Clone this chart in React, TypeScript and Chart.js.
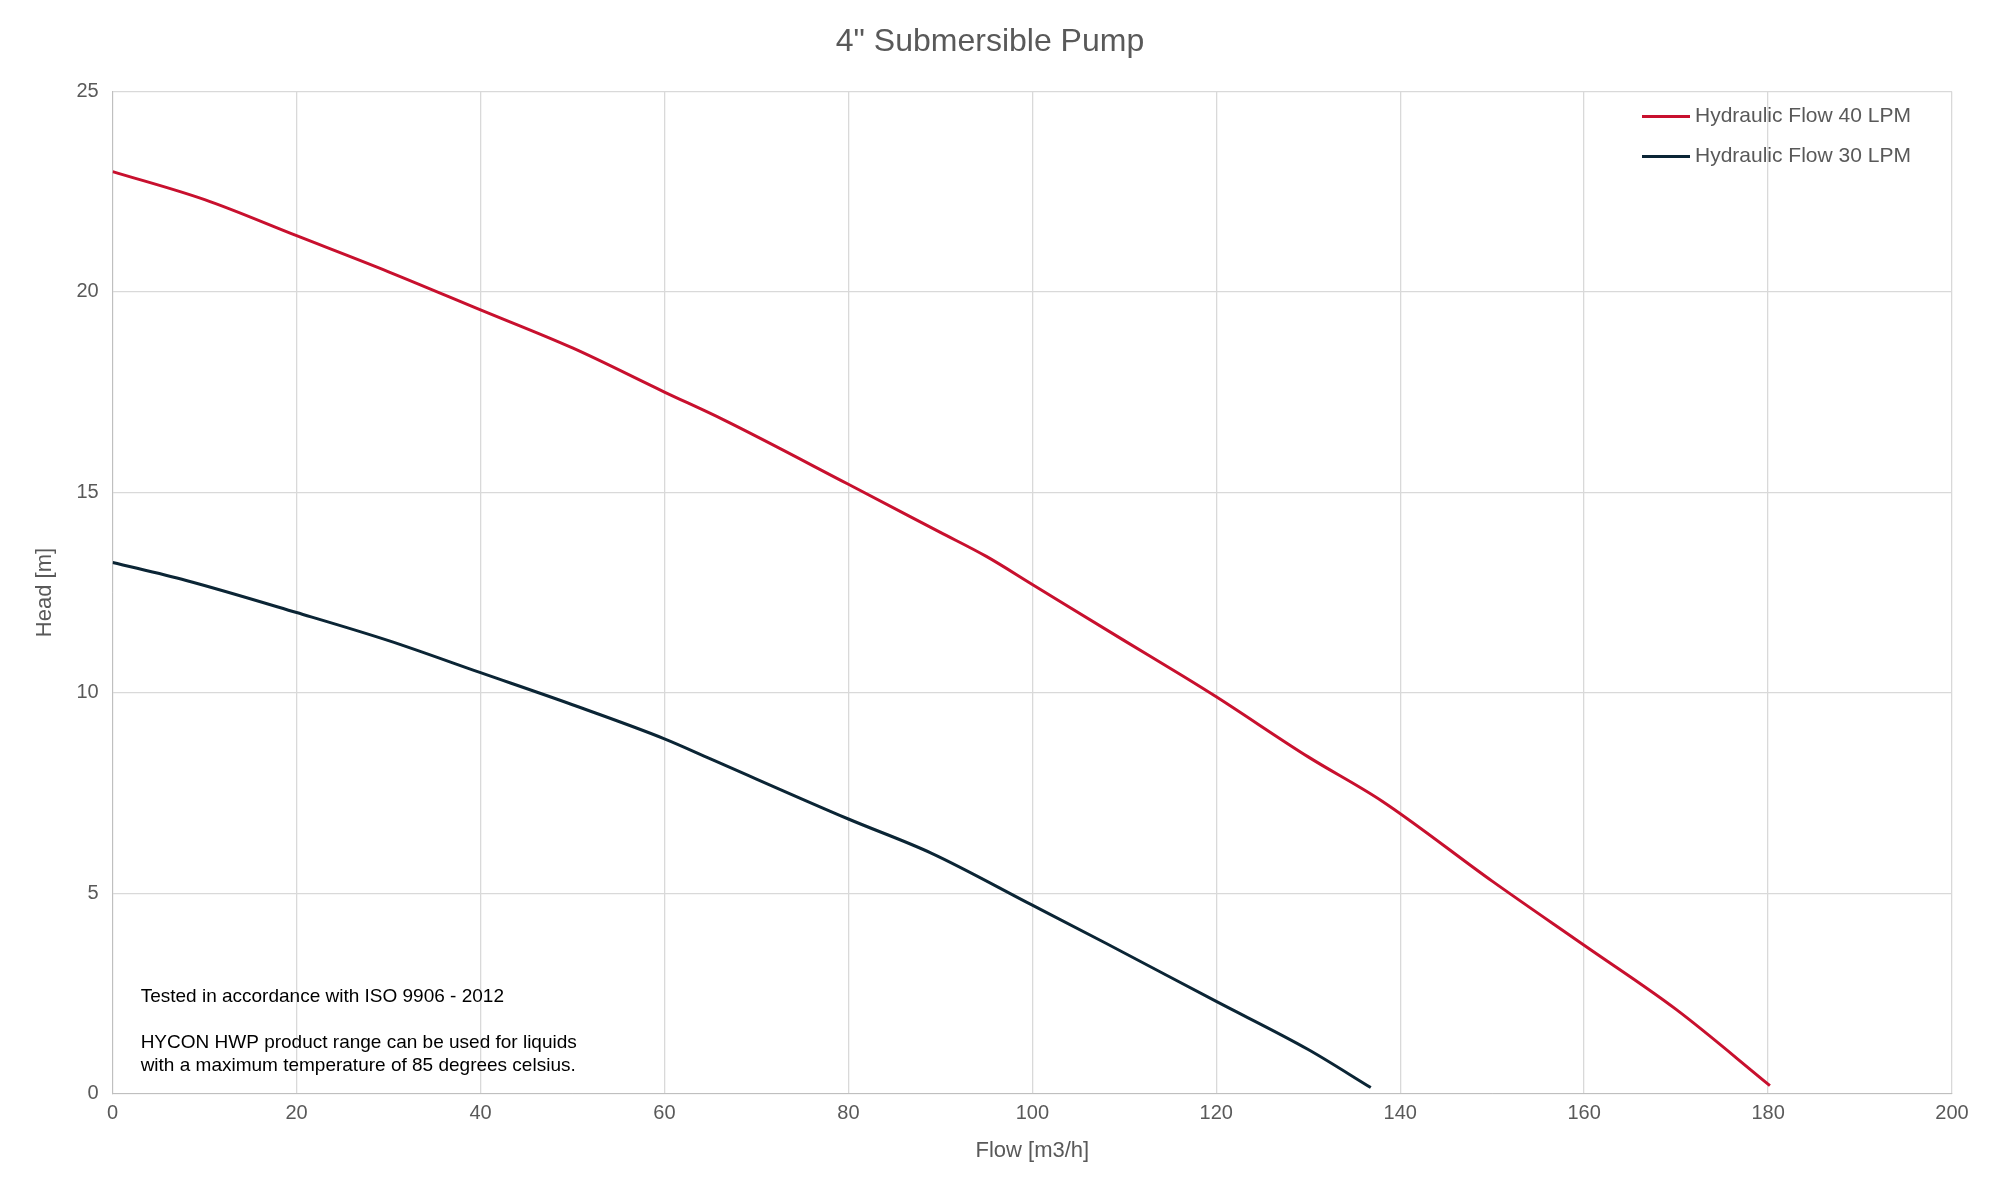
import React, { useEffect, useRef } from "react";
import { Chart, registerables } from "chart.js";
Chart.register(...registerables);

const flow40 = [0, 10, 20, 30, 40, 50, 60, 66.5, 80, 90, 95, 100, 110, 116.5, 120, 130, 138, 150, 160, 170, 180.2];
const head40 = [23, 22.3, 21.4, 20.5, 19.55, 18.6, 17.5, 16.8, 15.2, 14.0, 13.4, 12.7, 11.3, 10.4, 9.9, 8.4, 7.3, 5.3, 3.7, 2.1, 0.2];
const flow30 = [0, 8, 20, 30, 40, 50, 60, 65, 80, 89, 100, 108, 120, 130, 136.8];
const head30 = [13.25, 12.8, 12.0, 11.3, 10.5, 9.7, 8.85, 8.35, 6.85, 6.0, 4.7, 3.75, 2.3, 1.1, 0.15];
const seriesNames = ["Hydraulic Flow 40 LPM", "Hydraulic Flow 30 LPM"];
const seriesColors = ["#c8102e", "#0b2535"];
const noteLines = [
  "Tested in accordance with ISO 9906 - 2012",
  "",
  "HYCON HWP product range can be used for liquids",
  "with a maximum temperature of 85 degrees celsius.",
];

const overlay = {
  id: "overlay",
  afterDraw(chart: any) {
    const ctx = chart.ctx;
    const a = chart.chartArea;
    ctx.save();
    ctx.font = "19px Arial, 'Liberation Sans'";
    ctx.fillStyle = "#000";
    ctx.textBaseline = "middle";
    noteLines.forEach((t, i) => ctx.fillText(t, a.left + 28, a.bottom - 97 + i * 23));
    ctx.font = "21px Arial, 'Liberation Sans'";
    seriesNames.forEach((n, i) => {
      const y = a.top + 25 + i * 40;
      ctx.strokeStyle = seriesColors[i];
      ctx.lineWidth = 3;
      ctx.beginPath();
      ctx.moveTo(a.right - 310, y);
      ctx.lineTo(a.right - 262, y);
      ctx.stroke();
      ctx.fillStyle = "#595959";
      ctx.fillText(n, a.right - 257, y);
    });
    ctx.restore();
  },
};

export default function App() {
  const ref = useRef<HTMLCanvasElement>(null);
  useEffect(() => {
    const c = new Chart(ref.current!, {
      type: "scatter",
      data: {
        datasets: [
          { label: seriesNames[0], data: flow40.map((x, i) => ({ x, y: head40[i] })), showLine: true, borderColor: seriesColors[0], borderWidth: 3, pointRadius: 0, cubicInterpolationMode: "monotone" },
          { label: seriesNames[1], data: flow30.map((x, i) => ({ x, y: head30[i] })), showLine: true, borderColor: seriesColors[1], borderWidth: 3, pointRadius: 0, cubicInterpolationMode: "monotone" },
        ],
      },
      options: {
        responsive: false,
        animation: false,
        devicePixelRatio: 1,
        layout: { padding: { left: 28, right: 48, top: 5, bottom: 32 } },
        plugins: {
          legend: { display: false },
          tooltip: { enabled: false },
          title: { display: true, text: '4" Submersible Pump', color: "#595959", font: { size: 32, family: "Arial, 'Liberation Sans'", weight: "normal" }, padding: { top: 18, bottom: 30 } },
        },
        scales: {
          x: {
            type: "linear", min: 0, max: 200,
            ticks: { stepSize: 20, color: "#595959", font: { size: 20, family: "Arial, 'Liberation Sans'" }, padding: 8 },
            grid: { color: "#d9d9d9", lineWidth: 1.3, tickLength: 0 },
            border: { color: "#bfbfbf" },
            title: { display: true, text: "Flow [m3/h]", color: "#595959", font: { size: 22, family: "Arial, 'Liberation Sans'" } },
          },
          y: {
            min: 0, max: 25,
            ticks: { stepSize: 5, color: "#595959", font: { size: 20, family: "Arial, 'Liberation Sans'" }, padding: 14 },
            grid: { color: "#d9d9d9", lineWidth: 1.3, tickLength: 0 },
            border: { color: "#bfbfbf" },
            title: { display: true, text: "Head [m]", color: "#595959", font: { size: 22, family: "Arial, 'Liberation Sans'" } },
          },
        },
      },
      plugins: [overlay],
    } as any);
    return () => c.destroy();
  }, []);
  return (
    <div style={{ position: "absolute", left: 0, top: 0, width: 2000, height: 1200, background: "#fff" }}>
      <canvas ref={ref} width={2000} height={1200} />
    </div>
  );
}
